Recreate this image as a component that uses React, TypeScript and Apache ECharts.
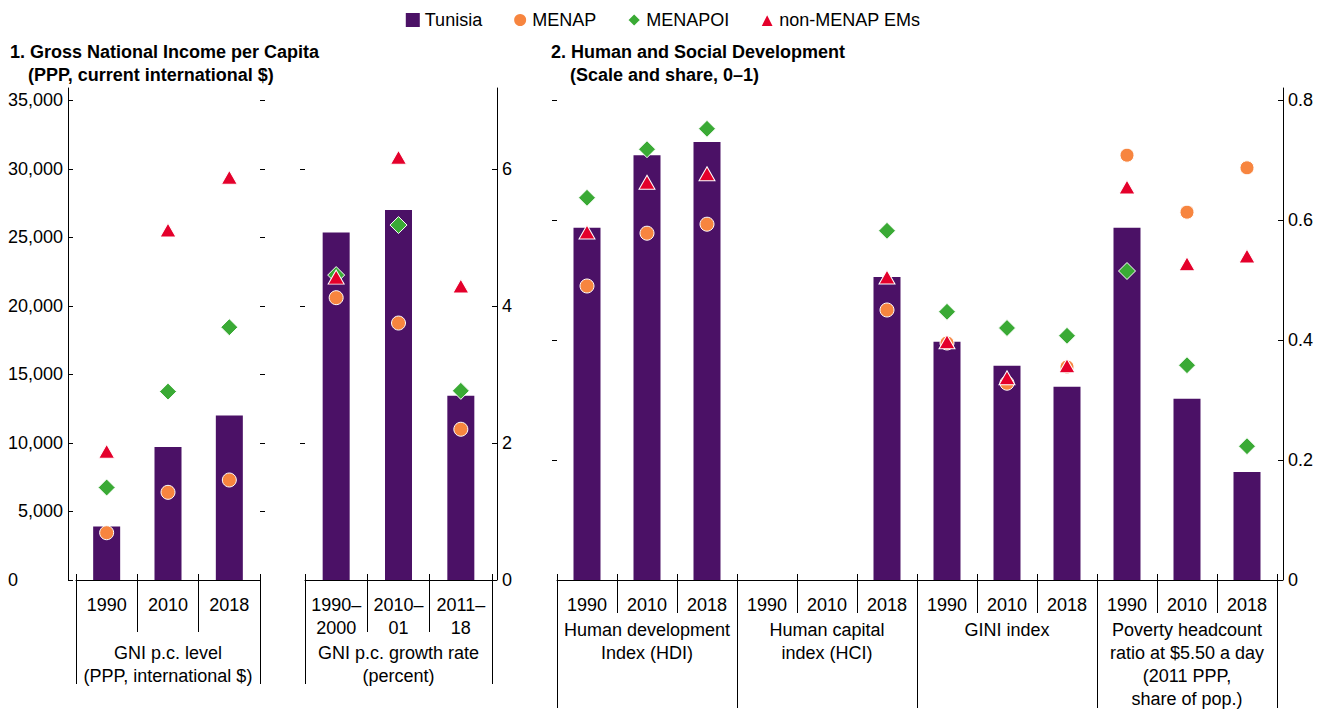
import React, { useEffect, useRef } from 'react';
import * as echarts from 'echarts';

// ---------- Data ----------
const gniYears = ['1990', '2010', '2018'];
const gniLevelTunisia = [3900, 9700, 12000];
const gniLevelMENAP = [3450, 6400, 7300];
const gniLevelMENAPOI = [6750, 13750, 18450];
const gniLevelNonMENAP = [9400, 25550, 29400];

const growthPeriods = ['1990–\n2000', '2010–\n01', '2011–\n18'];
const growthTunisia = [5.07, 5.4, 2.69];
const growthMENAP = [4.12, 3.75, 2.2];
const growthMENAPOI = [4.45, 5.18, 2.76];
const growthNonMENAP = [4.42, 6.17, 4.29];

const devYears = ['1990', '2010', '2018', '1990', '2010', '2018', '1990', '2010', '2018', '1990', '2010', '2018'];
const devGroups = [
  'Human development\nIndex (HDI)',
  'Human capital\nindex (HCI)',
  'GINI index',
  'Poverty headcount\nratio at $5.50 a day\n(2011 PPP,\nshare of pop.)',
];
const devTunisia = [0.587, 0.708, 0.73, null, null, 0.505, 0.397, 0.357, 0.322, 0.587, 0.302, 0.18];
const devMENAP = [0.49, 0.578, 0.593, null, null, 0.45, 0.395, 0.328, 0.355, 0.708, 0.613, 0.687];
const devMENAPOI = [0.637, 0.718, 0.752, null, null, 0.582, 0.447, 0.42, 0.407, 0.515, 0.358, 0.223];
const devNonMENAP = [0.58, 0.663, 0.677, null, null, 0.505, 0.397, 0.337, 0.357, 0.655, 0.527, 0.54];

const gniGroup = ['GNI p.c. level\n(PPP, international $)'];
const growthGroup = ['GNI p.c. growth rate\n(percent)'];

const gniTicks = [0, 5000, 10000, 15000, 20000, 25000, 30000, 35000];
const growthTicks = [0, 2, 4, 6];
const devTicks = [0, 0.2, 0.4, 0.6, 0.8];

// ---------- Style ----------
const FONT = '"Liberation Sans", Arial, Helvetica, sans-serif';
const FS = 18;
const C_TUN = '#4B1166';
const C_MENAP = '#F7853F';
const C_MENAPOI = '#3AAA35';
const C_NON = '#E4002B';
const TXT = '#000';

function yearAxis(gridIndex: number, data: string[], tickLen: number) {
  return {
    type: 'category', gridIndex, data, position: 'bottom', boundaryGap: true,
    axisLine: { show: true, lineStyle: { color: TXT, width: 1 } },
    axisTick: { show: true, alignWithLabel: false, interval: 0, length: tickLen, lineStyle: { color: TXT, width: 1 } },
    axisLabel: { interval: 0, margin: 13, color: TXT, fontSize: FS, fontFamily: FONT, lineHeight: 23 },
    splitLine: { show: false },
  };
}
function groupAxis(gridIndex: number, data: string[], tickLen: number, margin: number) {
  return {
    type: 'category', gridIndex, data, position: 'bottom', boundaryGap: true,
    axisLine: { show: false },
    axisTick: { show: true, alignWithLabel: false, interval: 0, length: tickLen, lineStyle: { color: TXT, width: 1 } },
    axisLabel: { interval: 0, margin, color: TXT, fontSize: FS, fontFamily: FONT, lineHeight: 23 },
    splitLine: { show: false },
  };
}
function upTickAxis(gridIndex: number, data: string[]) {
  return {
    type: 'category', gridIndex, data, position: 'bottom', boundaryGap: true,
    axisLine: { show: false },
    axisTick: { show: true, inside: true, alignWithLabel: false, interval: 0, length: 6, lineStyle: { color: TXT, width: 1 } },
    axisLabel: { show: false },
    splitLine: { show: false },
  };
}
function mainY(gridIndex: number, position: string, max: number, ticks: number[], offset: number, fmt?: any) {
  return {
    type: 'value', gridIndex, position, min: 0, max, offset,
    axisLine: { show: true, lineStyle: { color: TXT, width: 1 } },
    axisTick: { show: true, inside: true, length: 5, customValues: ticks, lineStyle: { color: TXT } },
    axisLabel: {
      customValues: ticks, margin: 5, color: TXT, fontSize: FS, fontFamily: FONT,
      formatter: fmt,
      rich: { z: { padding: [0, 45, 0, 0], fontSize: FS, fontFamily: FONT, color: TXT } },
    },
    splitLine: { show: false },
  };
}
function dummyY(gridIndex: number, position: string, max: number, ticks: number[]) {
  return {
    type: 'value', gridIndex, position, min: 0, max,
    axisLine: { show: false },
    axisTick: { show: true, inside: false, length: 5, customValues: ticks, lineStyle: { color: TXT } },
    axisLabel: { show: false },
    splitLine: { show: false },
  };
}

function seriesFor(xi: number, yi: number, tun: any[], men: any[], meo: any[], non: any[]) {
  const base = { borderColor: '#fff', borderWidth: 1, opacity: 1 };
  const common = { type: 'scatter', xAxisIndex: xi, yAxisIndex: yi };
  return [
    { name: 'Tunisia', type: 'bar', xAxisIndex: xi, yAxisIndex: yi, data: tun, barWidth: 27, itemStyle: { color: C_TUN, opacity: 1 }, z: 1 },
    { ...common, name: 'MENAP', data: men, symbol: 'circle', symbolSize: 14, itemStyle: { ...base, color: C_MENAP }, z: 2 },
    { ...common, name: 'MENAPOI', data: meo, symbol: 'diamond', symbolSize: 17, itemStyle: { ...base, color: C_MENAPOI }, z: 3 },
    { ...common, name: 'non-MENAP EMs', data: non, symbol: 'triangle', symbolSize: [16, 14], itemStyle: { ...base, color: C_NON }, z: 4 },
  ];
}

const titleStyle = { fontSize: FS, fontWeight: 'bold', fontFamily: FONT, color: TXT };

const option: any = {
  animation: false,
  backgroundColor: '#fff',
  title: [
    { text: '1. Gross National Income per Capita', left: 10, top: 43, padding: 0, textStyle: titleStyle },
    { text: '(PPP, current international $)', left: 28, top: 66, padding: 0, textStyle: titleStyle },
    { text: '2. Human and Social Development', left: 551, top: 43, padding: 0, textStyle: titleStyle },
    { text: '(Scale and share, 0–1)', left: 570, top: 66, padding: 0, textStyle: titleStyle },
  ],
  legend: {
    top: 11, left: 'center', padding: 0, itemWidth: 14, itemHeight: 14, itemGap: 30,
    textStyle: { fontSize: FS, fontFamily: FONT, color: TXT },
    data: [
      { name: 'Tunisia', icon: 'rect' },
      { name: 'MENAP', icon: 'circle' },
      { name: 'MENAPOI', icon: 'diamond' },
      { name: 'non-MENAP EMs', icon: 'triangle' },
    ],
  },
  grid: [
    { left: 76, top: 88, width: 184, height: 492 },
    { left: 305, top: 88, width: 187, height: 492 },
    { left: 557, top: 88, width: 720, height: 492 },
  ],
  xAxis: [
    yearAxis(0, gniYears, 52),
    groupAxis(0, gniGroup, 104, 61),
    upTickAxis(0, gniYears),
    yearAxis(1, growthPeriods, 52),
    groupAxis(1, growthGroup, 104, 61),
    upTickAxis(1, growthPeriods),
    yearAxis(2, devYears, 33),
    groupAxis(2, devGroups, 128, 38),
    upTickAxis(2, devYears),
  ],
  yAxis: [
    mainY(0, 'left', 35912, gniTicks, 8, (v: number) => (v === 0 ? '{z|0}' : v.toLocaleString('en-US'))),
    dummyY(0, 'right', 35912, gniTicks.slice(1)),
    mainY(1, 'right', 7.18, growthTicks, 5),
    dummyY(1, 'left', 7.18, growthTicks.slice(1)),
    mainY(2, 'right', 0.82, devTicks, 6),
    dummyY(2, 'left', 0.82, devTicks.slice(1)),
  ],
  series: [
    ...seriesFor(0, 0, gniLevelTunisia, gniLevelMENAP, gniLevelMENAPOI, gniLevelNonMENAP),
    ...seriesFor(3, 2, growthTunisia, growthMENAP, growthMENAPOI, growthNonMENAP),
    ...seriesFor(6, 4, devTunisia, devMENAP, devMENAPOI, devNonMENAP),
  ],
};

export default function App() {
  const ref = useRef<HTMLDivElement>(null);
  useEffect(() => {
    const chart = echarts.init(ref.current!, null, { renderer: 'svg' });
    chart.setOption(option);
    return () => chart.dispose();
  }, []);
  return <div ref={ref} style={{ position: 'fixed', left: 0, top: 0, width: 1326, height: 710, background: '#fff' }} />;
}
